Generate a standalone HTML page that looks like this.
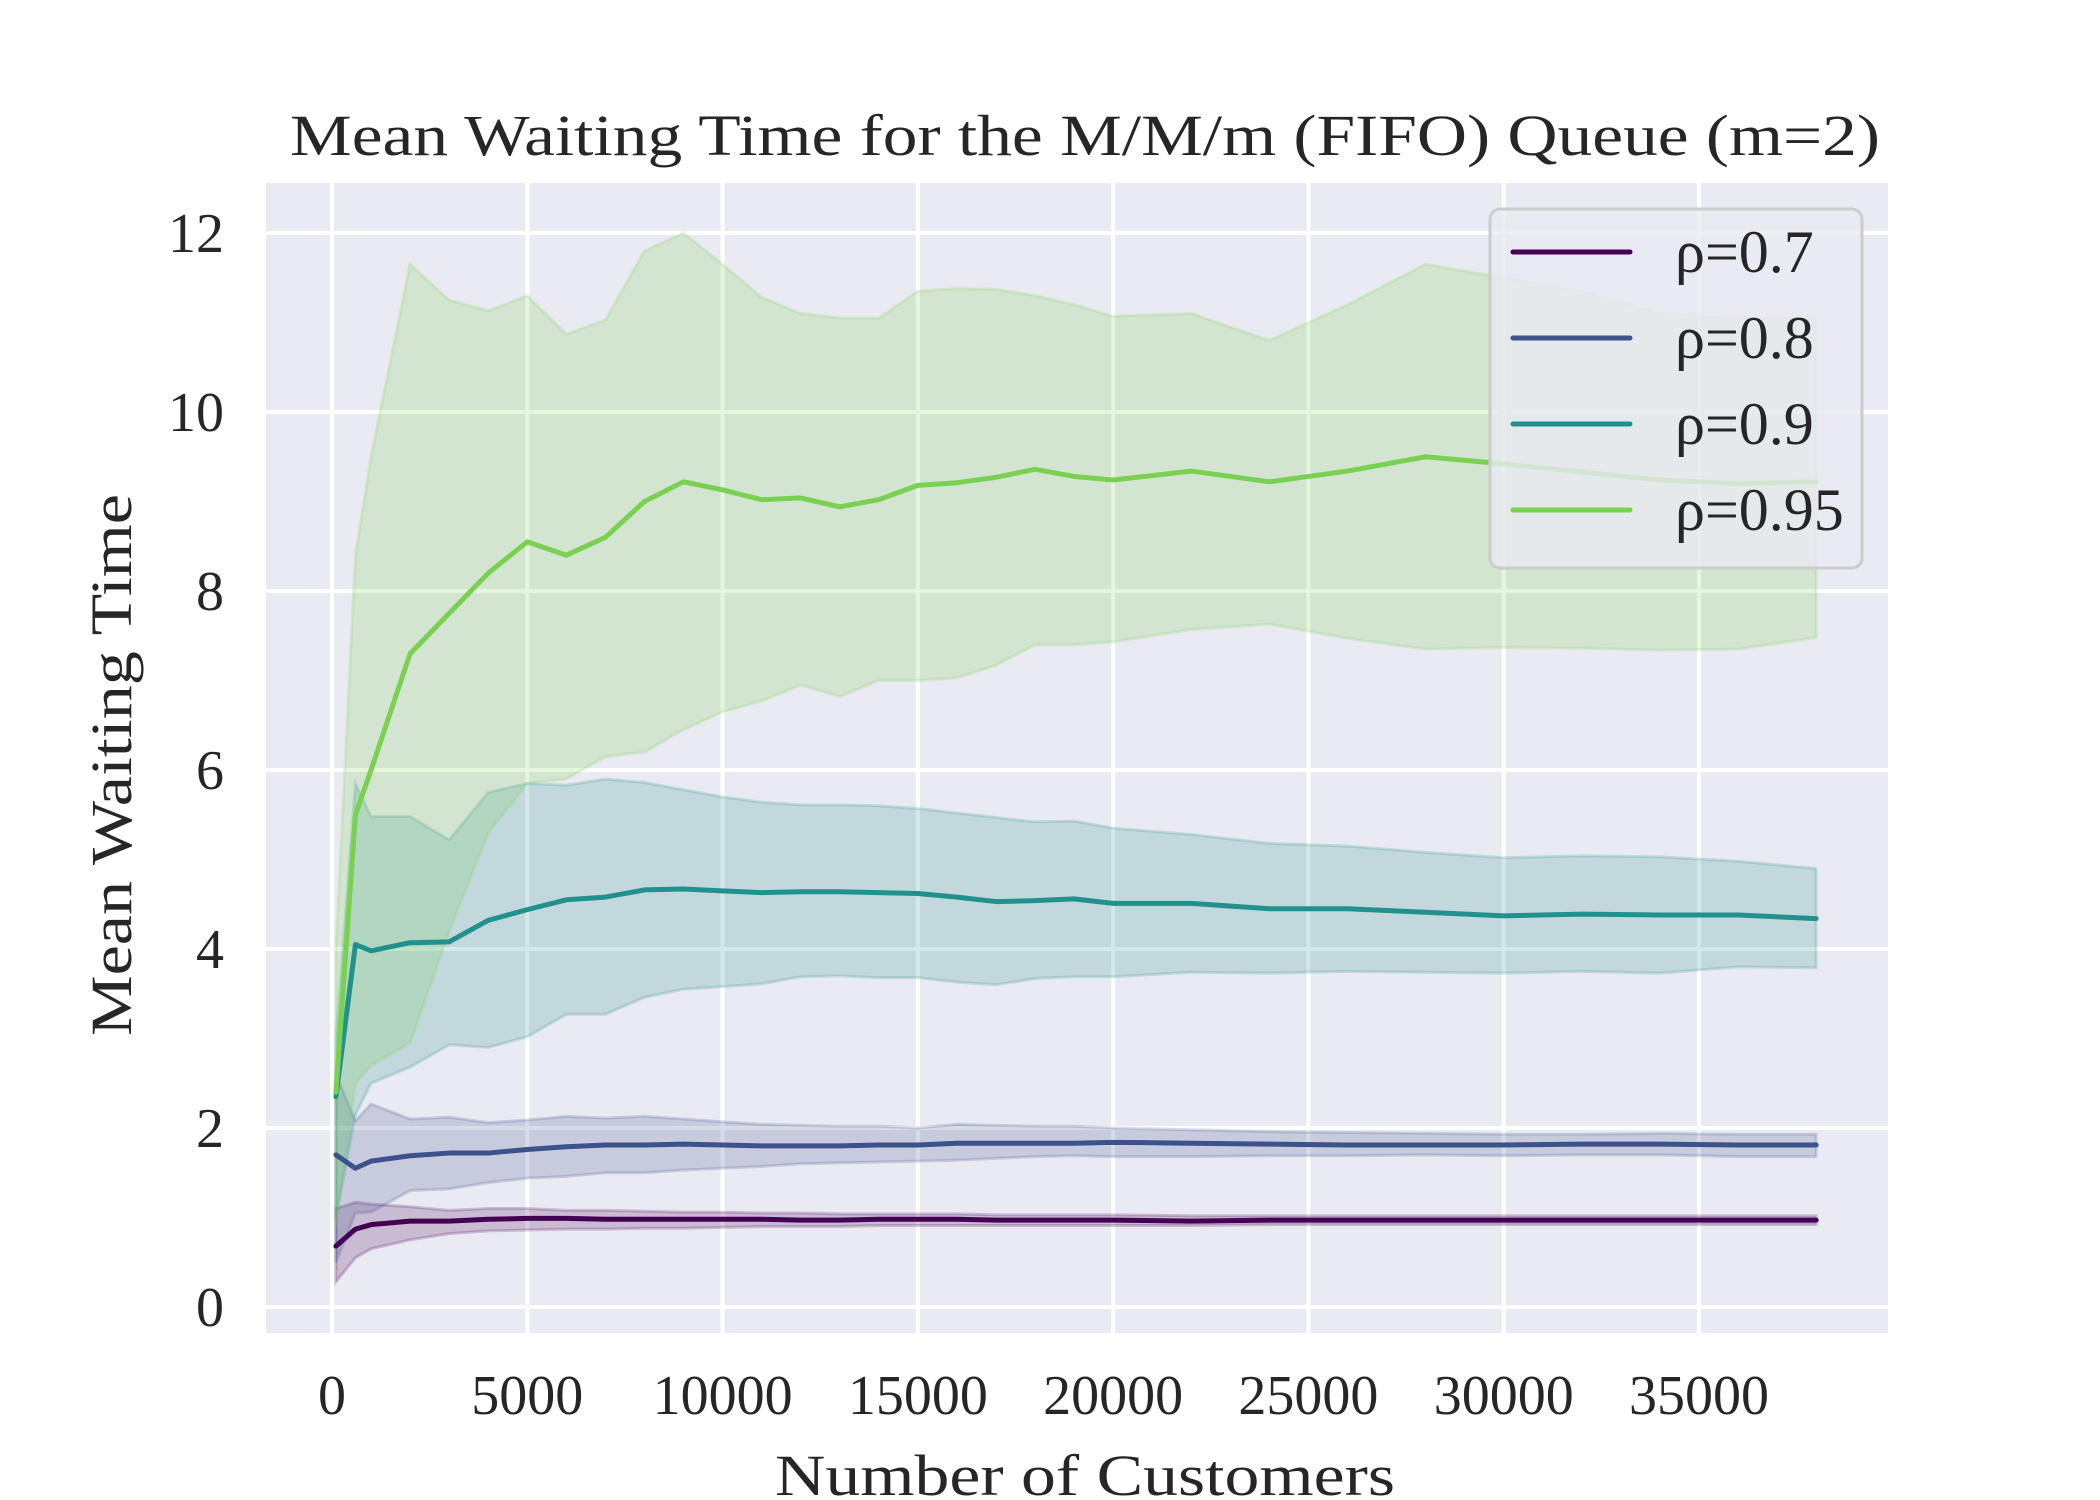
<!DOCTYPE html>
<html><head><meta charset="utf-8"><style>
html,body{margin:0;padding:0;background:#fff;}
svg{display:block;font-family:"Liberation Serif",serif;}
</style></head><body>
<svg id="chart" width="2100" height="1500" viewBox="0 0 2100 1500" xmlns="http://www.w3.org/2000/svg">
<rect x="266" y="183" width="1622" height="1150" fill="#eaeaf2"/>
<g id="grid"></g>
<g id="series"></g>
<g id="ticks"></g>
<text x="290" y="155" font-size="58" fill="#262626" textLength="1590" lengthAdjust="spacingAndGlyphs">Mean Waiting Time for the M/M/m (FIFO) Queue (m=2)</text>
<text x="775" y="1495" font-size="58" fill="#262626" textLength="620" lengthAdjust="spacingAndGlyphs">Number of Customers</text>
<text transform="translate(131,1036) rotate(-90)" font-size="58" fill="#262626" textLength="542" lengthAdjust="spacingAndGlyphs">Mean Waiting Time</text>
<g id="legend">
<rect x="1490" y="209" width="372" height="359" rx="10" fill="#eaeaf2" fill-opacity="0.8" stroke="#cccccc" stroke-width="3"/>
</g>
</svg>
<script>
const xTicks=[0,5000,10000,15000,20000,25000,30000,35000];
const yTicks=[0,2,4,6,8,10,12];
const xs=[100,600,1000,2000,3000,4000,5000,6000,7000,8000,9000,10000,11000,12000,13000,14000,15000,16000,17000,18000,19000,20000,22000,24000,26000,28000,30000,32000,34000,36000,38000];
const labels=["ρ=0.7","ρ=0.8","ρ=0.9","ρ=0.95"];
const colors=["#440154","#3b528b","#21918c","#7ad151"];
const mean07=[0.68,0.87,0.92,0.96,0.96,0.98,0.99,0.99,0.98,0.98,0.98,0.98,0.98,0.97,0.97,0.98,0.98,0.98,0.97,0.97,0.97,0.97,0.96,0.97,0.97,0.97,0.97,0.97,0.97,0.97,0.97];
const up07=[1.1,1.17,1.15,1.12,1.08,1.1,1.1,1.08,1.08,1.07,1.06,1.06,1.05,1.05,1.04,1.04,1.04,1.04,1.03,1.03,1.03,1.03,1.02,1.02,1.02,1.02,1.02,1.02,1.02,1.02,1.02];
const lo07=[0.28,0.55,0.65,0.75,0.82,0.85,0.86,0.87,0.87,0.88,0.88,0.89,0.9,0.9,0.9,0.91,0.91,0.91,0.91,0.91,0.91,0.91,0.91,0.92,0.92,0.92,0.92,0.92,0.92,0.92,0.92];
const mean08=[1.7,1.55,1.63,1.69,1.72,1.72,1.76,1.79,1.81,1.81,1.82,1.81,1.8,1.8,1.8,1.81,1.81,1.83,1.83,1.83,1.83,1.84,1.83,1.82,1.81,1.81,1.81,1.82,1.82,1.81,1.81];
const up08=[2.6,2.08,2.27,2.1,2.12,2.06,2.09,2.13,2.11,2.13,2.1,2.07,2.04,2.03,2.02,2.02,2.0,2.04,2.03,2.02,2.02,2.0,1.98,1.96,1.95,1.94,1.93,1.93,1.94,1.93,1.93];
const lo08=[0.5,1.05,1.06,1.3,1.32,1.39,1.44,1.46,1.5,1.5,1.53,1.55,1.57,1.6,1.61,1.62,1.63,1.64,1.66,1.68,1.69,1.68,1.68,1.69,1.69,1.7,1.69,1.7,1.7,1.68,1.68];
const mean09=[2.35,4.05,3.98,4.07,4.08,4.32,4.44,4.55,4.58,4.66,4.67,4.65,4.63,4.64,4.64,4.63,4.62,4.58,4.53,4.54,4.56,4.51,4.51,4.45,4.45,4.41,4.37,4.39,4.38,4.38,4.34];
const up09=[3.0,5.85,5.48,5.48,5.22,5.75,5.85,5.83,5.9,5.86,5.78,5.7,5.64,5.61,5.61,5.6,5.57,5.52,5.47,5.42,5.43,5.35,5.28,5.18,5.15,5.08,5.02,5.04,5.03,4.98,4.9];
const lo09=[1.0,2.15,2.5,2.68,2.93,2.9,3.02,3.27,3.27,3.46,3.55,3.58,3.61,3.69,3.7,3.68,3.68,3.63,3.6,3.67,3.69,3.69,3.74,3.73,3.75,3.74,3.73,3.75,3.73,3.8,3.79];
const mean095=[2.4,5.5,6.0,7.3,7.75,8.2,8.55,8.4,8.6,9.0,9.22,9.13,9.02,9.04,8.94,9.02,9.18,9.21,9.27,9.36,9.28,9.24,9.34,9.22,9.34,9.5,9.42,9.33,9.24,9.2,9.22];
const up095=[4.0,8.4,9.5,11.65,11.25,11.13,11.3,10.87,11.03,11.8,12.0,11.65,11.28,11.1,11.05,11.05,11.35,11.38,11.37,11.3,11.2,11.07,11.1,10.8,11.2,11.65,11.5,11.35,11.1,11.05,11.05];
const lo095=[0.9,2.5,2.7,2.95,4.2,5.3,5.85,5.9,6.15,6.2,6.45,6.65,6.77,6.95,6.82,7.0,7.0,7.03,7.17,7.4,7.4,7.43,7.57,7.63,7.47,7.35,7.37,7.36,7.34,7.35,7.48];

const NS="http://www.w3.org/2000/svg";
const X=v=>332+v*(1699-332)/35000;
const Y=v=>1307-v*(1307-233)/12;
function mk(tag,attrs,parent){const e=document.createElementNS(NS,tag);for(const k in attrs)e.setAttribute(k,attrs[k]);parent.appendChild(e);return e;}
const grid=document.getElementById('grid'),ticks=document.getElementById('ticks'),ser=document.getElementById('series'),leg=document.getElementById('legend');
xTicks.forEach(t=>{
  const l=mk('line',{x1:X(t),x2:X(t),y1:183,y2:1333,stroke:'#fff','stroke-width':4},grid);
  
  
  const tx=mk('text',{x:X(t),y:1414,'text-anchor':'middle','font-size':56,fill:'#262626'},ticks);
  tx.textContent=t;
  
  
});
yTicks.forEach(t=>{
  const l=mk('line',{x1:266,x2:1888,y1:Y(t),y2:Y(t),stroke:'#fff','stroke-width':4},grid);
  
  
  const tx=mk('text',{x:224,y:Y(t)+19,'text-anchor':'end','font-size':56,fill:'#262626'},ticks);
  tx.textContent=t;
  
  
});
const S=[[mean07,up07,lo07],[mean08,up08,lo08],[mean09,up09,lo09],[mean095,up095,lo095]];
S.forEach((s,i)=>{
  const [m,u,lo]=s;
  let d='M'+xs.map((x,j)=>X(x)+','+Y(u[j])).join('L');
  for(let j=xs.length-1;j>=0;j--)d+='L'+X(xs[j])+','+Y(lo[j]);
  d+='Z';
  const b=mk('path',{d:d,fill:colors[i],'fill-opacity':0.2,stroke:colors[i],'stroke-opacity':0.2,'stroke-width':3},ser);
  
  
});
S.forEach((s,i)=>{
  const p=mk('polyline',{points:xs.map((x,j)=>X(x)+','+Y(s[0][j])).join(' '),fill:'none',stroke:colors[i],'stroke-width':5,'stroke-linejoin':'round','stroke-linecap':'round'},ser);
  
  
});
labels.forEach((lab,i)=>{
  const y=252+i*86;
  const l=mk('line',{x1:1513,x2:1630,y1:y,y2:y,stroke:colors[i],'stroke-width':5,'stroke-linecap':'round'},leg);
  
  
  const t=mk('text',{x:1675,y:y+20,'font-size':60,fill:'#262626'},leg);
  t.textContent=lab;
  
  
});
</script>
</body></html>
